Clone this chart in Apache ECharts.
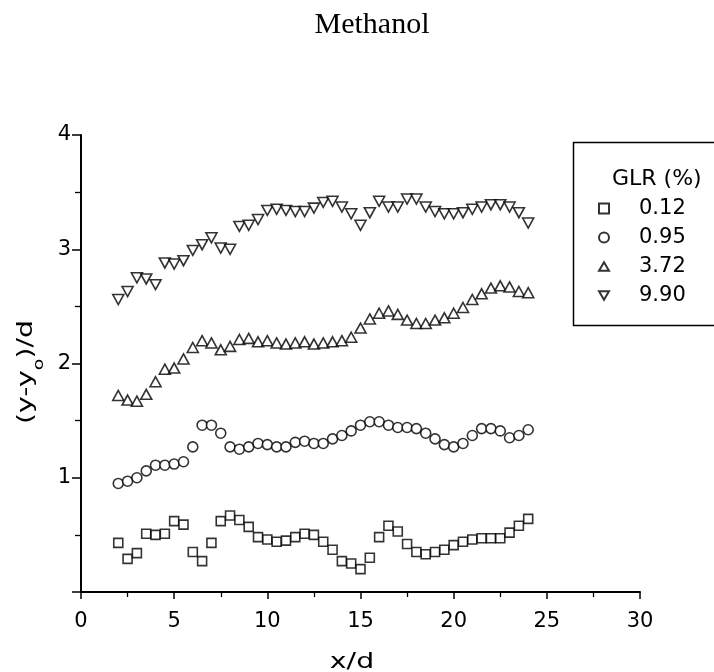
<!DOCTYPE html>
<html>
<head>
<meta charset="utf-8">
<script src="https://cdn.jsdelivr.net/npm/echarts@6/dist/echarts.min.js"></script>
<style>
html,body{margin:0;padding:0;background:#fff;}
#chart{width:714px;height:672px;}
</style>
</head>
<body>
<div id="chart"></div>
<script>
const xValues = [2,2.5,3,3.5,4,4.5,5,5.5,6,6.5,7,7.5,8,8.5,9,9.5,10,10.5,11,11.5,12,12.5,13,13.5,14,14.5,15,15.5,16,16.5,17,17.5,18,18.5,19,19.5,20,20.5,21,21.5,22,22.5,23,23.5,24];
const glr012 = [0.43,0.29,0.34,0.51,0.50,0.51,0.62,0.59,0.35,0.27,0.43,0.62,0.67,0.63,0.57,0.48,0.46,0.44,0.45,0.48,0.51,0.50,0.44,0.37,0.27,0.25,0.20,0.30,0.48,0.58,0.53,0.42,0.35,0.33,0.35,0.37,0.41,0.44,0.46,0.47,0.47,0.47,0.52,0.58,0.64];
const glr095 = [0.95,0.97,1.00,1.06,1.11,1.11,1.12,1.14,1.27,1.46,1.46,1.39,1.27,1.25,1.27,1.30,1.29,1.27,1.27,1.31,1.32,1.30,1.30,1.34,1.37,1.41,1.46,1.49,1.49,1.46,1.44,1.44,1.43,1.39,1.34,1.29,1.27,1.30,1.37,1.43,1.43,1.41,1.35,1.37,1.42];
const glr372 = [1.72,1.68,1.67,1.73,1.84,1.95,1.96,2.04,2.14,2.20,2.18,2.12,2.15,2.21,2.22,2.19,2.20,2.18,2.17,2.18,2.19,2.17,2.18,2.19,2.20,2.23,2.31,2.39,2.44,2.46,2.43,2.38,2.35,2.35,2.38,2.40,2.44,2.49,2.56,2.61,2.66,2.68,2.67,2.63,2.62];
const glr990 = [2.56,2.63,2.75,2.74,2.69,2.88,2.87,2.90,2.99,3.04,3.10,3.01,3.00,3.20,3.21,3.26,3.34,3.35,3.34,3.33,3.33,3.36,3.41,3.42,3.37,3.31,3.21,3.32,3.42,3.37,3.37,3.44,3.44,3.37,3.33,3.31,3.31,3.32,3.35,3.37,3.39,3.39,3.37,3.32,3.23];
const seriesNames = ['0.12','0.95','3.72','9.90'];
const legendTitle = 'GLR (%)';
const chartTitle = 'Methanol';
const xName = 'x/d';
const yName = '(y-y{s|o})/d';

const pair = arr => arr.map((v,i) => [xValues[i], v]);
const downTri = 'path://M0,0 L10,0 L5,8.66 Z';
const upTri = 'path://M5,0 L10,8.66 L0,8.66 Z';
const mk = (name, data, symbol, size) => ({
  name, type: 'scatter', data: pair(data), symbol, symbolSize: size,
  itemStyle: {color: '#fff', borderColor: '#000', borderWidth: 1.6},
  emphasis: {disabled: true}
});

const chart = echarts.init(document.getElementById('chart'), null, {renderer: 'canvas'});
const font = 'DejaVu Sans, Liberation Sans, sans-serif';
chart.setOption({
  animation: false,
  backgroundColor: '#fff',
  title: {
    text: chartTitle, left: 367, top: 5, textAlign: 'center',
    textStyle: {fontFamily: 'Liberation Serif, Times New Roman, serif', fontWeight: 'normal', fontSize: 30, color: '#000'}
  },
  grid: {left: 81, right: 74, top: 135, bottom: 80, containLabel: false},
  xAxis: {
    type: 'value', min: 0, max: 30, interval: 5,
    axisLine: {show: true, onZero: false, lineStyle: {color: '#000', width: 2}},
    axisTick: {show: true, inside: false, length: 7, lineStyle: {color: '#000', width: 1.5}},
    minorTick: {show: true, splitNumber: 2, length: 5, lineStyle: {color: '#000', width: 1.3}},
    axisLabel: {fontFamily: font, fontSize: 21, color: '#000', margin: 19},
    splitLine: {show: false}
  },
  yAxis: {
    type: 'value', min: 0, max: 4, interval: 1,
    axisLine: {show: true, onZero: false, lineStyle: {color: '#000', width: 2}},
    axisTick: {show: true, inside: false, length: 9, lineStyle: {color: '#000', width: 1.5}},
    minorTick: {show: true, splitNumber: 2, length: 6, lineStyle: {color: '#000', width: 1.3}},
    axisLabel: {fontFamily: font, fontSize: 21, color: '#000', margin: 10, showMinLabel: false},
    splitLine: {show: false}
  },
  legend: {
    orient: 'vertical', left: 593, top: 193, itemGap: 8,
    itemWidth: 10, itemHeight: 10,
    textStyle: {fontFamily: font, fontSize: 21, color: '#000', padding: [0,0,0,25]},
    data: [
      {name: '0.12', icon: 'rect'},
      {name: '0.95', icon: 'circle'},
      {name: '3.72', icon: upTri},
      {name: '9.90', icon: downTri}
    ]
  },
  graphic: [
    {type: 'rect', left: 571, top: 140, shape: {width: 142, height: 183}, style: {fill: 'none', stroke: '#000', lineWidth: 1.5}, z: 10},
    {type: 'text', left: 612, top: 168, style: {text: legendTitle, font: '22px ' + font, fill: '#000'}, z: 10},
    {type: 'text', x: 352, y: 663, scaleX: 1.35, style: {text: xName, font: '21px ' + font, fill: '#000', align: 'center', verticalAlign: 'middle'}, z: 10},
    {type: 'text', x: 27, y: 372, rotation: Math.PI / 2, scaleX: 1.35,
      style: {text: yName, font: '21px ' + font, fill: '#000', align: 'center', verticalAlign: 'middle',
        rich: {s: {font: '14px ' + font, fill: '#000', verticalAlign: 'bottom', padding: [0,0,-9,0]}}}, z: 10}
  ],
  series: [
    mk(seriesNames[0], glr012, 'rect', 9),
    mk(seriesNames[1], glr095, 'circle', 10),
    mk(seriesNames[2], glr372, upTri, [11, 10]),
    mk(seriesNames[3], glr990, downTri, [11, 10])
  ]
});
</script>
</body>
</html>
